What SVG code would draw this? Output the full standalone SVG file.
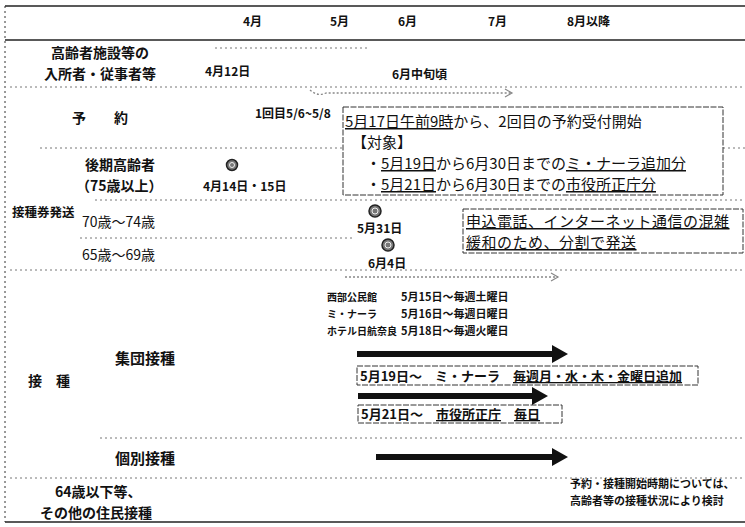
<svg xmlns="http://www.w3.org/2000/svg" width="745" height="527" viewBox="0 0 745 527">
<style>
text{font-family:"Noto Sans CJK JP","Noto Sans CJK SC",sans-serif;fill:#111}
.h{font-size:12px;font-weight:bold}
.lab{font-size:14px;font-weight:bold}
.sm{font-size:12px;font-weight:bold}
.xs{font-size:11px;font-weight:bold}
.bt{font-size:15px}
.bx{font-size:13px;font-weight:bold}
.u{text-decoration:underline}
.grid{stroke:#777;stroke-width:1;stroke-dasharray:2 3;fill:none}
.frame{stroke:#222;stroke-width:1.5;fill:none}
.box{fill:none;stroke:#333;stroke-width:1;stroke-dasharray:6 1.5}
.thick{fill:#111}
.dash{stroke:#888;stroke-width:1.3;stroke-dasharray:2 2;fill:none}
.stamp{fill:#777;stroke:#222;stroke-width:1.5}
.stampin{fill:none;stroke:#eee;stroke-width:1}
</style>
<defs>
<marker id="open" markerWidth="10" markerHeight="10" refX="8" refY="5" orient="auto" markerUnits="userSpaceOnUse">
<path d="M1,1 L8,5 L1,9" fill="none" stroke="#888" stroke-width="1.2"/>
</marker>
</defs>
<g id="frame">
<line class="frame" x1="5" y1="6" x2="745" y2="6"/>
<line class="frame" x1="5" y1="40" x2="745" y2="40"/>
<line class="frame" x1="5" y1="522" x2="745" y2="522"/>
<line class="grid" x1="5" y1="6" x2="5" y2="522" style="stroke:#333"/>
<line class="grid" x1="215" y1="48" x2="370" y2="48"/>
<line class="grid" x1="10" y1="87" x2="745" y2="87"/>
<line class="grid" x1="40" y1="148" x2="343" y2="148"/>
<line class="grid" x1="723" y1="148" x2="745" y2="148"/>
<line class="grid" x1="95" y1="200" x2="745" y2="200"/>
<line class="grid" x1="80" y1="238" x2="355" y2="238"/>
<line class="grid" x1="10" y1="270" x2="745" y2="270"/>
<line class="grid" x1="100" y1="438" x2="745" y2="438"/>
<line class="grid" x1="10" y1="478" x2="745" y2="478"/>
</g>
<g id="header">
<text class="h" x="243" y="26">4月</text>
<text class="h" x="330" y="26">5月</text>
<text class="h" x="398" y="26">6月</text>
<text class="h" x="488" y="26">7月</text>
<text class="h" x="567" y="26">8月以降</text>
</g>
<g id="row-facility">
<text class="lab" x="100" y="58" text-anchor="middle">高齢者施設等の</text>
<text class="lab" x="100" y="79" text-anchor="middle">入所者・従事者等</text>
<text class="sm" x="205" y="76">4月12日</text>
<text class="sm" x="392" y="79">6月中旬頃</text>
</g>
<g id="row-reserve">
<text class="lab" x="72" y="123">予　　約</text>
<text class="sm" x="255" y="118">1回目5/6~5/8</text>
</g>
<g id="box-reserve2">
<rect class="box" x="343" y="107" width="380" height="88"/>
<text class="bt" x="345" y="127"><tspan class="u">5月17日午前9時</tspan>から、2回目の予約受付開始</text>
<text class="bt" x="352" y="148">【対象】</text>
<text class="bt" x="366" y="169">・<tspan class="u">5月19日</tspan>から6月30日までの<tspan class="u">ミ・ナーラ追加分</tspan></text>
<text class="bt" x="366" y="190">・<tspan class="u">5月21日</tspan>から6月30日までの<tspan class="u">市役所正庁分</tspan></text>
</g>
<g id="row-ticket">
<text class="lab" x="12" y="217" style="font-size:12.5px">接種券発送</text>
<text class="lab" x="85" y="170">後期高齢者</text>
<text class="lab" x="76" y="191">（75歳以上）</text>
<circle class="stamp" cx="232" cy="165" r="5.5"/>
<circle class="stampin" cx="232" cy="165" r="2.5"/>
<text class="sm" x="203" y="191">4月14日・15日</text>
<text class="lab" x="82" y="227" style="font-weight:normal">70歳～74歳</text>
<circle class="stamp" cx="375" cy="211" r="6"/>
<circle class="stampin" cx="375" cy="211" r="3"/>
<text class="sm" x="357" y="233">5月31日</text>
<text class="lab" x="82" y="260" style="font-weight:normal">65歳～69歳</text>
<circle class="stamp" cx="388" cy="245" r="6"/>
<circle class="stampin" cx="388" cy="245" r="3"/>
<text class="sm" x="368" y="268">6月4日</text>
</g>
<g id="box-split">
<rect class="box" x="463" y="209" width="280" height="44"/>
<text class="bt" x="466" y="227" style="letter-spacing:0.5px"><tspan class="u">申込電話、インターネット通信の混雑</tspan></text>
<text class="bt" x="466" y="248" style="letter-spacing:0.5px"><tspan class="u">緩和のため、分割で発送</tspan></text>
</g>
<g id="venues">
<text class="xs" x="327" y="301" style="font-size:10px">西部公民館</text>
<text class="xs" x="401" y="301">5月15日～毎週土曜日</text>
<text class="xs" x="327" y="318" style="font-size:10px">ミ・ナーラ</text>
<text class="xs" x="401" y="318">5月16日～毎週日曜日</text>
<text class="xs" x="327" y="335" style="font-size:10px">ホテル日航奈良</text>
<text class="xs" x="401" y="335">5月18日～毎週火曜日</text>
</g>
<g id="row-vaccination">
<text class="lab" x="28" y="386">接　種</text>
<text class="lab" x="115" y="364" style="font-size:15px">集団接種</text>
<text class="lab" x="115" y="464" style="font-size:15px">個別接種</text>
</g>
<g id="box-minara">
<rect class="box" x="357" y="366" width="341" height="19"/>
<text class="bx" x="360" y="381">5月19日～　ミ・ナーラ　<tspan class="u">毎週月・水・木・金曜日追加</tspan></text>
</g>
<g id="box-cityhall">
<rect class="box" x="358" y="405" width="204" height="18"/>
<text class="bx" x="361" y="419">5月21日～　<tspan class="u">市役所正庁</tspan>　<tspan class="u">毎日</tspan></text>
</g>
<g id="row-others">
<text class="lab" x="55" y="497">64歳以下等、</text>
<text class="lab" x="40" y="518">その他の住民接種</text>
<text class="xs" x="570" y="488">予約・接種開始時期については、</text>
<text class="xs" x="570" y="505">高齢者等の接種状況により検討</text>
</g>
<g id="connectors">
<path class="dash" d="M310,90 Q318,97 326,93 L512,93" marker-end="url(#open)"/>
<path class="dash" d="M345,277 L558,277" marker-end="url(#open)"/>
<path class="thick" d="M357,351 L552,351 L552,345 L568,354 L552,363 L552,357 L357,357 Z"/>
<path class="thick" d="M358,393 L532,393 L532,387 L548,396 L532,405 L532,399 L358,399 Z"/>
<path class="thick" d="M376,454 L552,454 L552,448 L568,457 L552,466 L552,460 L376,460 Z"/>
</g>
</svg>
